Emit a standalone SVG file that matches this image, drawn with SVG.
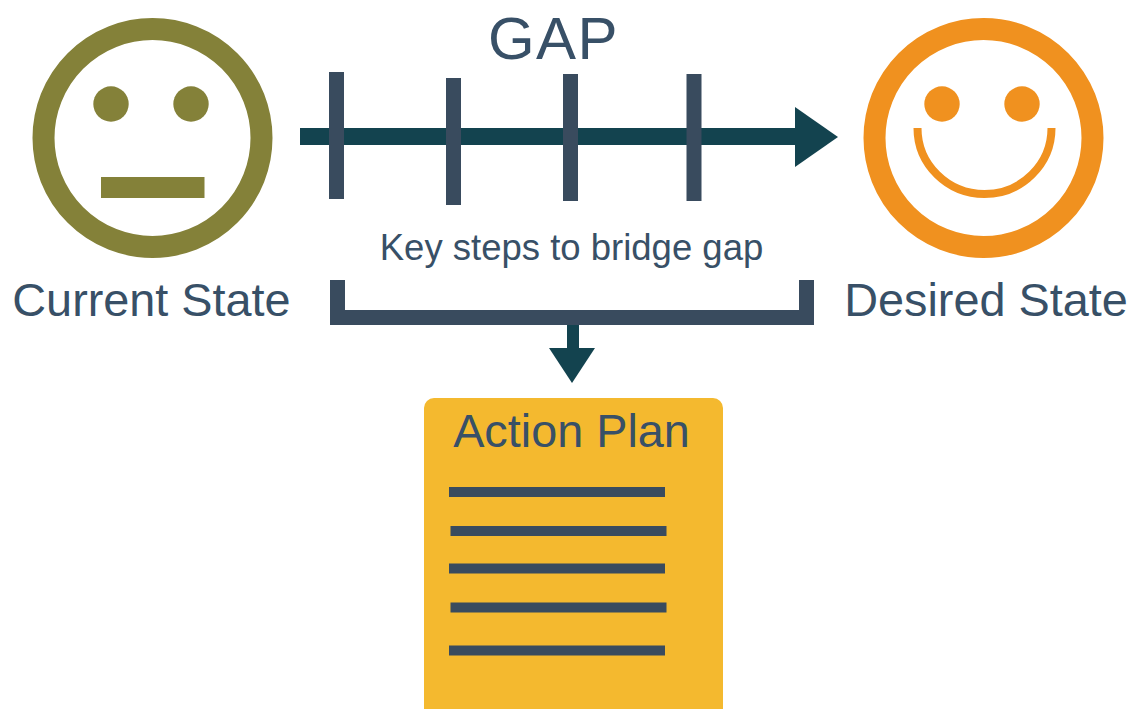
<svg xmlns="http://www.w3.org/2000/svg" width="1136" height="709" viewBox="0 0 1136 709">
<style>
text{font-family:"Liberation Sans",Arial,sans-serif;fill:#385067;text-anchor:middle}
.bar{fill:#394b5e}
.teal{fill:#13434f}
.olive{fill:#848139}
.orange{fill:#f0911f}
.line{fill:#394b5e}
</style>
<rect width="1136" height="709" fill="#fff"/>
<g id="connectors">
<rect class="teal" x="300" y="128" width="500" height="17"/>
<polygon class="teal" points="795,107 838,137 795,167"/>
<rect class="bar" x="329" y="72" width="15" height="127"/>
<rect class="bar" x="446" y="78" width="15" height="127"/>
<rect class="bar" x="563" y="74" width="15" height="127"/>
<rect class="bar" x="686.500" y="74" width="15" height="127"/>
<rect class="teal" x="567" y="324" width="12" height="26"/>
<polygon class="teal" points="549,348 595,348 572,383"/>
<path class="bar" d="M330 280H345V310H799V280H814V325H330Z"/>
</g>
<g id="current-state">
<circle cx="152.500" cy="138" r="109" fill="#fff" stroke="#848139" stroke-width="22"/>
<circle class="olive" cx="111" cy="104" r="17.700"/>
<circle class="olive" cx="191" cy="104" r="17.700"/>
<rect class="olive" x="101" y="177" width="103.500" height="21"/>
<text x="151.500" y="316" font-size="46.800">Current State</text>
</g>
<g id="desired-state">
<circle cx="983.500" cy="138" r="109" fill="#fff" stroke="#f0911f" stroke-width="22"/>
<circle class="orange" cx="942" cy="104" r="17.700"/>
<circle class="orange" cx="1022" cy="104" r="17.700"/>
<path d="M917.500 128A67 66 0 0 0 1051.500 128" fill="none" stroke="#f0911f" stroke-width="8"/>
<text x="986" y="316" font-size="46.800">Desired State</text>
</g>
<g id="gap">
<text x="553.500" y="59" font-size="60" letter-spacing="1.500">GAP</text>
<text x="571.500" y="260" font-size="36.500">Key steps to bridge gap</text>
</g>
<g id="action-plan">
<path d="M434 398H713a10 10 0 0 1 10 10V709H424V408a10 10 0 0 1 10-10Z" fill="#f4b92f"/>
<text x="571.500" y="447" font-size="46.800">Action Plan</text>
<rect class="line" x="449" y="487" width="216" height="10"/>
<rect class="line" x="450.500" y="526" width="216" height="10"/>
<rect class="line" x="449" y="563.500" width="216" height="10"/>
<rect class="line" x="450.500" y="602.500" width="216" height="10"/>
<rect class="line" x="449" y="645.500" width="216" height="10"/>
</g>
</svg>
